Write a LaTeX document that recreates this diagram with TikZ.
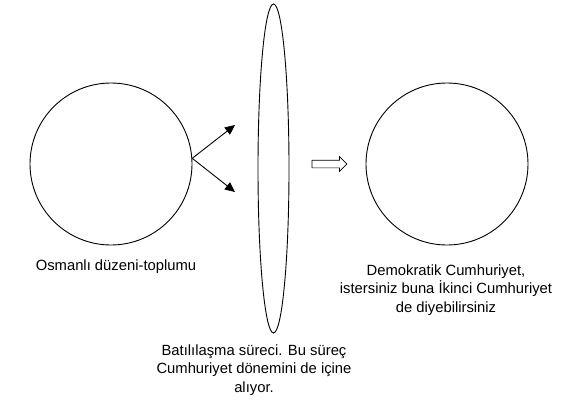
\documentclass[tikz,border=0pt]{standalone}
\usepackage{fontspec}
\setmainfont{Liberation Sans}
\usetikzlibrary{shapes.geometric, shapes.arrows, arrows.meta, positioning}

\begin{document}
\begin{tikzpicture}[x=1pt, y=-1pt,
  ring/.style={draw, circle, line width=0.9pt, minimum size=162pt, inner sep=0pt},
  lens/.style={draw, ellipse, line width=0.9pt, minimum width=31pt,
    minimum height=329pt, inner sep=0pt},
  caption/.style={align=center, font=\fontsize{14.8}{18.2}\selectfont, inner sep=0pt},
  push/.style={draw, single arrow, line width=0.7pt, inner sep=3.5pt,
    minimum height=35pt, single arrow head extend=3.5pt},
  arrow/.style={-{Triangle[length=10pt, width=9pt]}, line width=0.9pt}
]
\useasboundingbox (0,0) rectangle (584,407);
\node[ring] (osm) at (111,164) {};
\node[ring] (cum) at (447,164) {};
\node[lens] (bati) at (273.5,168.5) {};
\node[push] (gecis) at (327.5,164) {};
\coordinate (upT) at (235,125);
\coordinate (dnT) at (235,192);
\draw[arrow] (osm.4) -- (upT);
\draw[arrow] (osm.4) -- (dnT);
\node[caption] (osmL) at (116,267) {Osmanlı düzeni-toplumu};
\node[caption] (cumL) at (446,290) {Demokratik Cumhuriyet,\\istersiniz buna İkinci Cumhuriyet\\de diyebilirsiniz};
\node[caption] (batiL) at (254,370) {Batılılaşma süreci. Bu süreç\\Cumhuriyet dönemini de içine\\alıyor.};
\end{tikzpicture}
\end{document}
